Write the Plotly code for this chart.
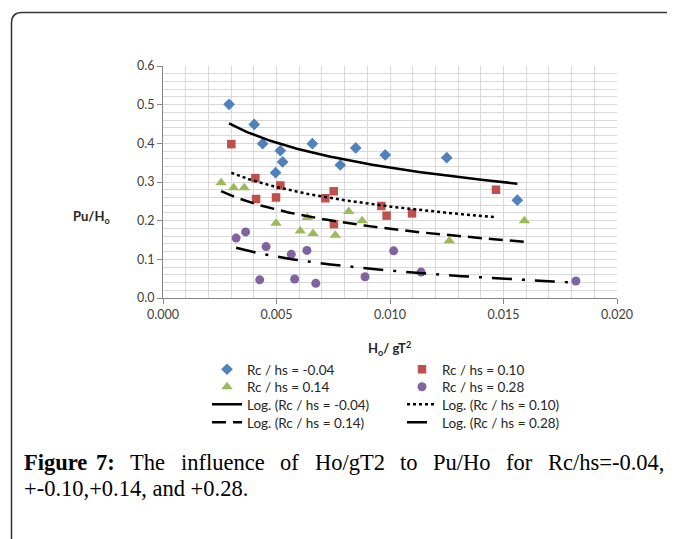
import numpy as np
import plotly.graph_objects as go

# ---------------- data ----------------
x_m004 = [0.00291, 0.00402, 0.00439, 0.00517, 0.00527, 0.00496, 0.00658, 0.00781, 0.00849, 0.00979, 0.01250, 0.01561]
y_m004 = [0.501, 0.449, 0.399, 0.381, 0.352, 0.324, 0.399, 0.344, 0.388, 0.370, 0.363, 0.253]

x_010 = [0.00301, 0.00407, 0.00517, 0.00410, 0.00498, 0.00752, 0.00715, 0.00962, 0.00985, 0.00753, 0.01097, 0.01467]
y_010 = [0.398, 0.310, 0.291, 0.256, 0.260, 0.276, 0.258, 0.238, 0.213, 0.191, 0.219, 0.280]

x_014 = [0.00256, 0.00311, 0.00358, 0.00498, 0.00636, 0.00605, 0.00661, 0.00759, 0.00818, 0.00877, 0.01261, 0.01592]
y_014 = [0.298, 0.285, 0.285, 0.193, 0.208, 0.173, 0.167, 0.162, 0.224, 0.200, 0.148, 0.200]

x_028 = [0.00322, 0.00364, 0.00454, 0.00565, 0.00634, 0.00426, 0.00580, 0.00673, 0.00890, 0.01016, 0.01137, 0.01819]
y_028 = [0.155, 0.171, 0.133, 0.113, 0.123, 0.047, 0.049, 0.038, 0.055, 0.122, 0.067, 0.044]

names = ["Rc / hs = -0.04", "Rc / hs = 0.10", "Rc / hs = 0.14", "Rc / hs = 0.28"]
x_ticks = [0.000, 0.005, 0.010, 0.015, 0.020]
y_ticks = [0.0, 0.1, 0.2, 0.3, 0.4, 0.5, 0.6]

caption_line1 = ["<b>Figure</b>", "<b>7:</b>", "The", "influence", "of", "Ho/gT2", "to", "Pu/Ho", "for", "Rc/hs=-0.04,"]
caption_line2 = "+-0.10,+0.14, and +0.28."

# ---------------- layout constants (screen px, page has 8px body margin) ----------------
OFF = 8
W, H = 675 - OFF, 539 - OFF
L, R, T, B = 155, 58, 58, 241
PW, PH = W - L - R, H - T - B

def px(sx):
    return (sx - OFF - L) / PW

def py(sy):
    return 1 - (sy - OFF - T) / PH

FONT = "Lato"
series = [
    (x_m004, y_m004, "#4F81BD", "diamond", 9, "solid"),
    (x_010, y_010, "#C0504D", "square", 8.5, "dot"),
    (x_014, y_014, "#9BBB59", "triangle-up", 10, "14px,7px"),
    (x_028, y_028, "#8064A2", "circle", 9, "20px,10px,3px,10px"),
]
legend_ids = ["legend", "legend", "legend2", "legend2"]
line_legend_ids = ["legend3", "legend3", "legend4", "legend4"]

fig = go.Figure()
for (xs, ys, col, sym, sz, _), nm, lg in zip(series, names, legend_ids):
    fig.add_trace(go.Scatter(x=xs, y=ys, mode="markers", name=nm, legend=lg,
                             marker=dict(color=col, symbol=sym, size=sz, line=dict(width=0))))

for (xs, ys, col, sym, sz, dash), nm, lg in zip(series, names, line_legend_ids):
    xa = np.array(xs)
    ya = np.array(ys)
    a, b = np.polyfit(np.log(xa), ya, 1)
    xf = np.linspace(xa.min(), xa.max(), 120)
    yf = a * np.log(xf) + b
    fig.add_trace(go.Scatter(x=xf, y=yf, mode="lines", name="Log. (" + nm + ")", legend=lg,
                             line=dict(color="black", width=2.5, dash=dash)))

row_centers = [368, 385.5, 403, 421]
leg_font = dict(family=FONT, size=13.5, color="#262626")
legends = {}
for i, key in enumerate(["legend", "legend2", "legend3", "legend4"]):
    legends[key] = dict(orientation="h", x=px(207), xanchor="left",
                        y=py(row_centers[i] - 14), yanchor="top",
                        entrywidth=150, font=leg_font,
                        bgcolor="rgba(0,0,0,0)", tracegroupgap=0)

fig.update_layout(
    width=W, height=H,
    margin=dict(l=L, r=R, t=T, b=B),
    paper_bgcolor="white", plot_bgcolor="white",
    font=dict(family=FONT, size=12, color="#262626"),
    showlegend=True,
    **legends,
)
fig.update_xaxes(range=[0, 0.02], tickvals=x_ticks, tickformat=".3f",
                 showgrid=True, gridcolor="#D9D9D9", gridwidth=1,
                 minor=dict(dtick=0.001, showgrid=True, gridcolor="#D9D9D9", gridwidth=1),
                 showline=True, linecolor="#868686", linewidth=1,
                 ticks="outside", ticklen=5, tickcolor="#868686",
                 tickfont=dict(family=FONT, size=12.5, color="#404040"), zeroline=False)
fig.update_yaxes(range=[0, 0.6], tickvals=y_ticks, tickformat=".1f",
                 showgrid=True, gridcolor="#D9D9D9", gridwidth=1,
                 minor=dict(dtick=0.02, showgrid=True, gridcolor="#D9D9D9", gridwidth=1),
                 showline=True, linecolor="#868686", linewidth=1,
                 ticks="outside", ticklen=5, tickcolor="#868686",
                 tickfont=dict(family=FONT, size=12.5, color="#404040"), zeroline=False)

# axis titles
fig.add_annotation(x=px(91), y=py(217), xref="paper", yref="paper", showarrow=False,
                   xanchor="center", yanchor="middle",
                   text="<b>Pu/H<sub>o</sub></b>", font=dict(family=FONT, size=13, color="#262626"))
fig.add_annotation(x=px(389), y=py(348), xref="paper", yref="paper", showarrow=False,
                   xanchor="center", yanchor="middle",
                   text="<b>H<sub>o</sub>/ gT<sup>2</sup></b>", font=dict(family=FONT, size=13, color="#262626"))

# caption (justified first line: words placed at their positions)
CAP = "Liberation Serif"
CAPSZ = 22.5
word_x = [22.3, 94.0, 128.3, 178.9, 278.2, 312.5, 398.1, 431.2, 504.3, 546.1]
for w, wx in zip(caption_line1, word_x):
    fig.add_annotation(x=px(wx), y=py(462.5), xref="paper", yref="paper", showarrow=False,
                       xanchor="left", yanchor="middle", text=w,
                       font=dict(family=CAP, size=CAPSZ, color="black"))
fig.add_annotation(x=px(22.3), y=py(488.5), xref="paper", yref="paper", showarrow=False,
                   xanchor="left", yanchor="middle", text=caption_line2,
                   font=dict(family=CAP, size=CAPSZ, color="black"))

# border with rounded top-left corner
path = "M {:.5f},{:.5f} L {:.5f},{:.5f} Q {:.5f},{:.5f} {:.5f},{:.5f} L {:.5f},{:.5f}".format(
    px(11.5), py(545), px(11.5), py(23), px(11.5), py(12.5), px(22), py(12.5), px(680), py(12.5))
fig.add_shape(type="path", path=path, xref="paper", yref="paper",
              line=dict(color="#333333", width=1.5), layer="above")

fig.write_html("out.html")
